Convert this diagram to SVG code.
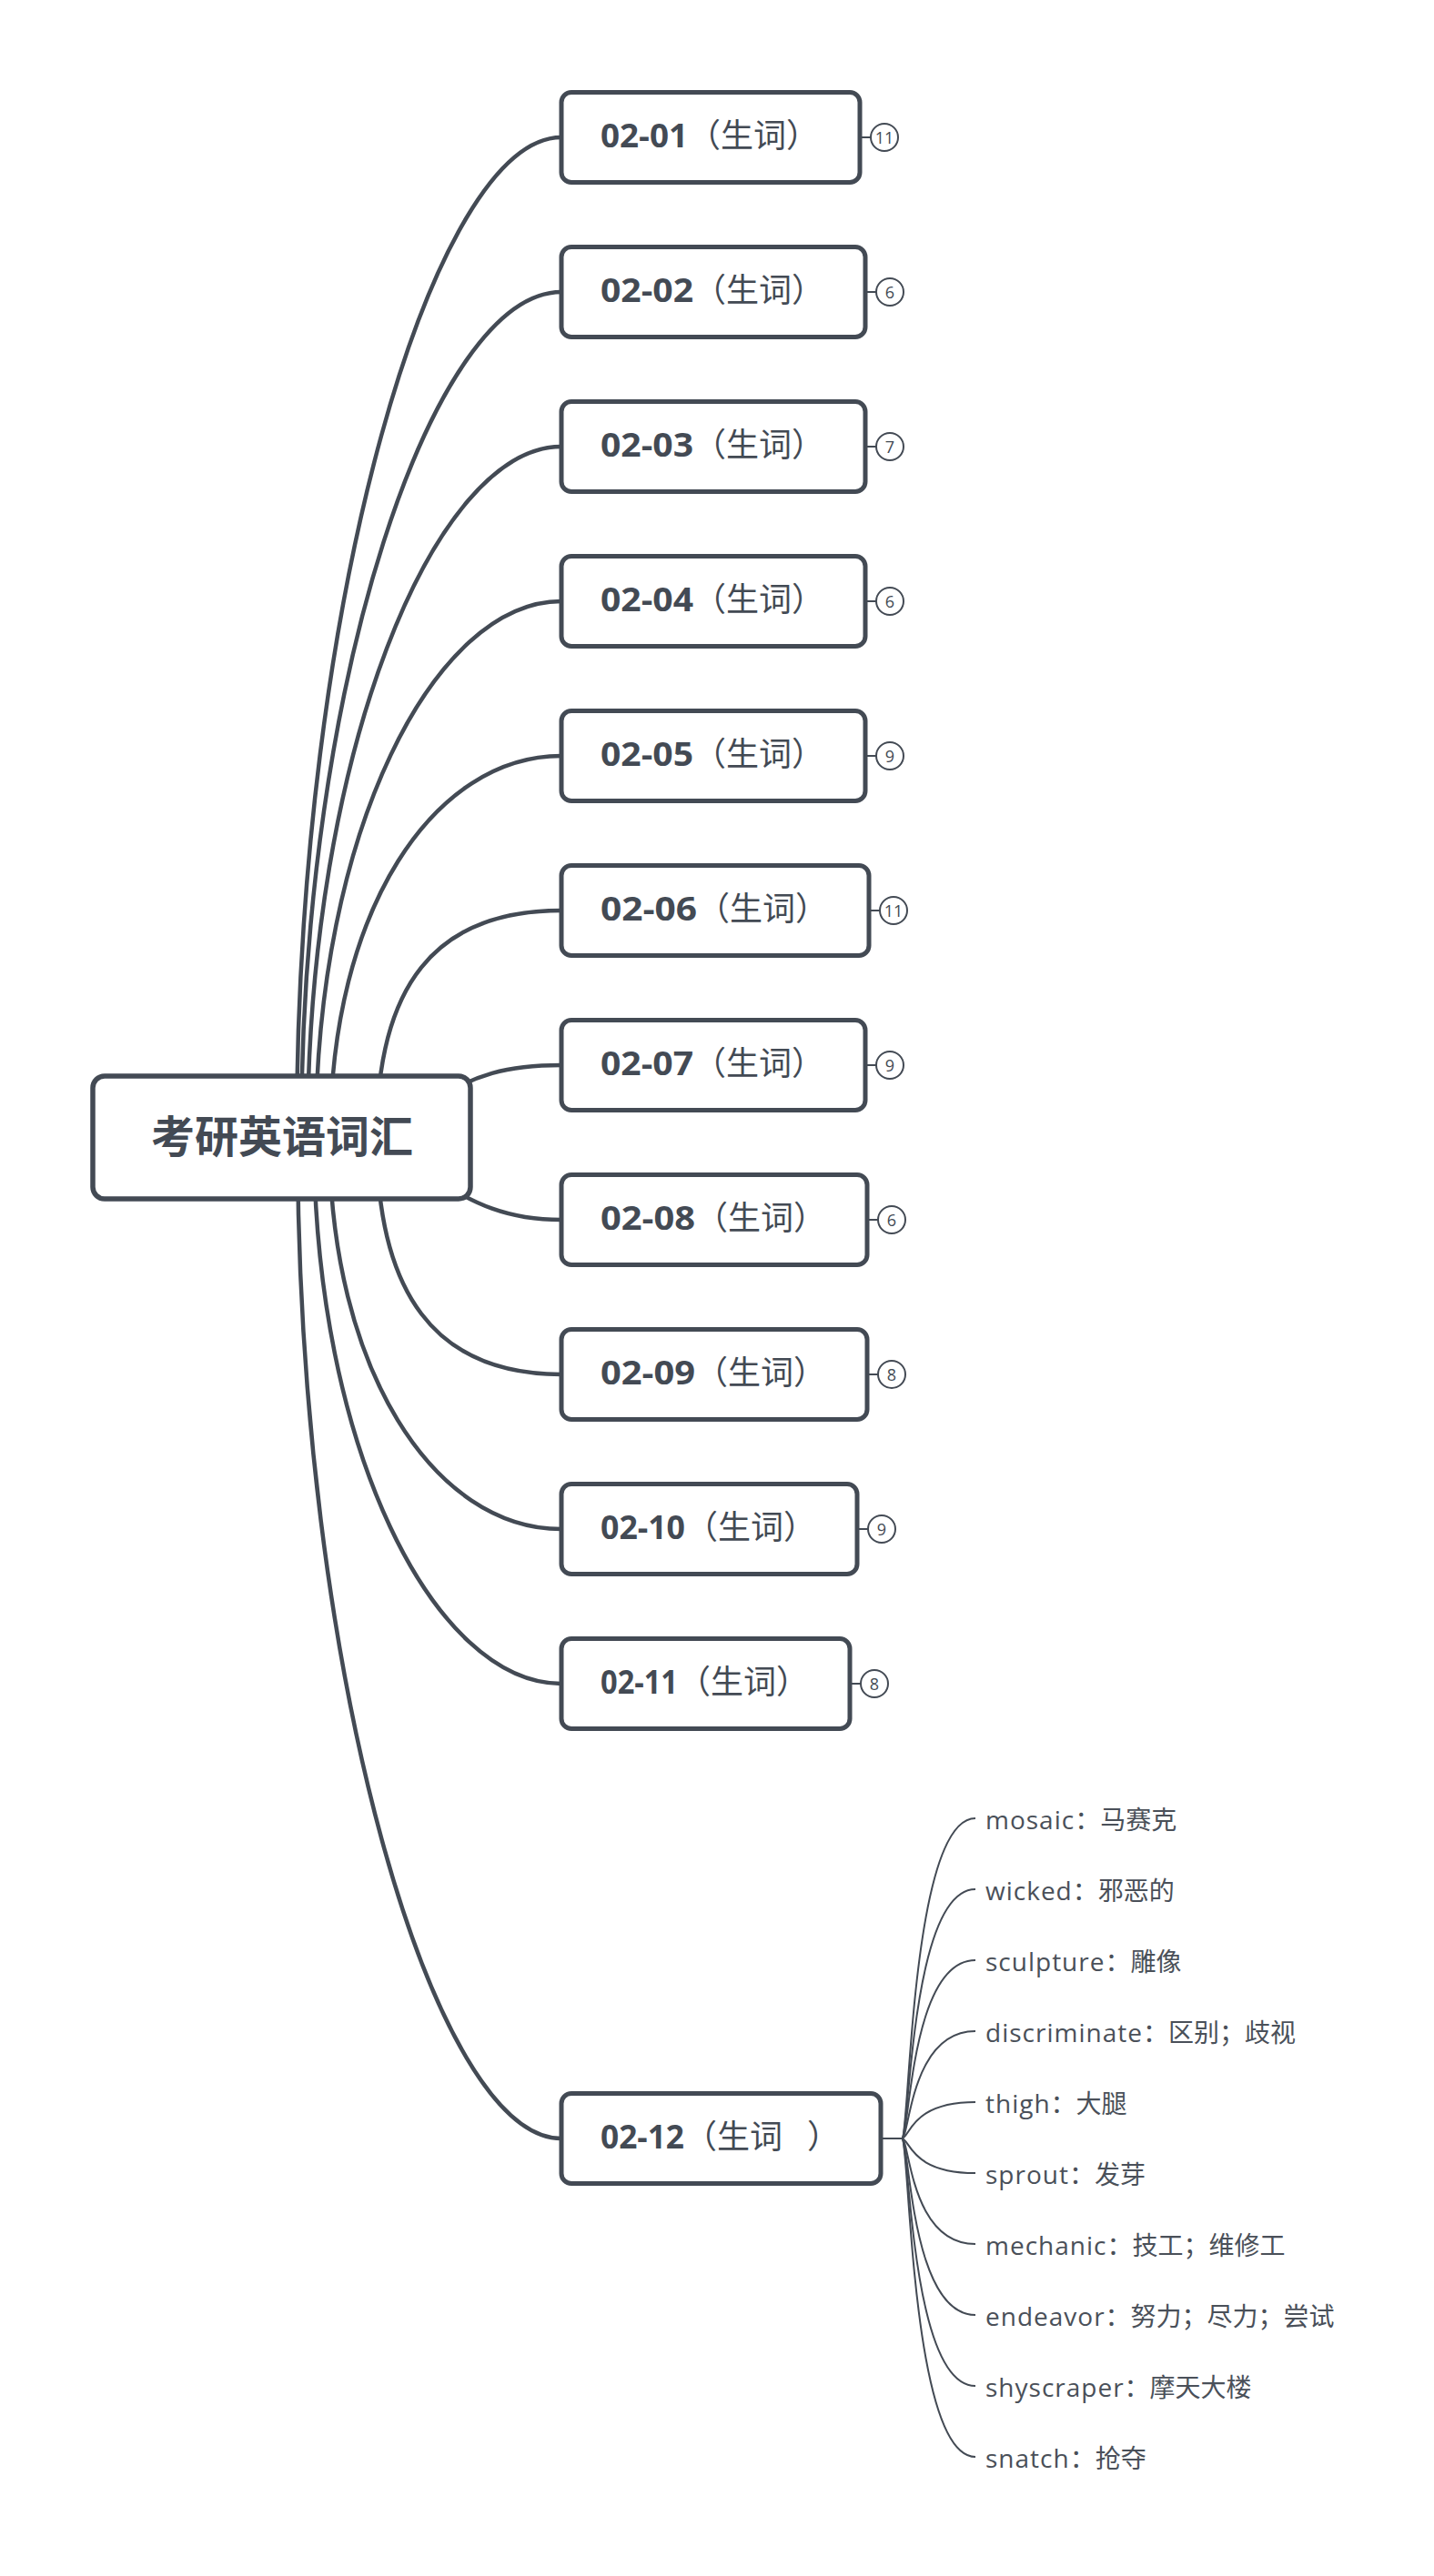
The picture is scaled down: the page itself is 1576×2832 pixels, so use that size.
<svg xmlns="http://www.w3.org/2000/svg" width="1576" height="2832" viewBox="0 0 1576 2832">
<style>
.branch{fill:none;stroke:#434a54;stroke-width:4.5;stroke-linecap:round}
.leafline{fill:none;stroke:#434a54;stroke-width:2}
.box{fill:#fff;stroke:#434a54;stroke-width:5}
.root{fill:#fff;stroke:#434a54;stroke-width:5.5}
.title{font-family:"Noto Sans CJK SC",sans-serif;font-weight:700;font-size:48px;fill:#434a54;text-anchor:middle}
.lbl{font-family:"Open Sans","Noto Sans CJK SC",sans-serif;font-size:36px;fill:#434a54}
.num{font-weight:700}
.cjk{font-family:"Noto Sans CJK SC",sans-serif;font-weight:400}
.badge circle{fill:#fff;stroke:#434a54;stroke-width:2}
.badge line{stroke:#434a54;stroke-width:2}
.badge text{font-family:"Open Sans",sans-serif;font-size:18px;fill:#434a54;text-anchor:middle}
.leaf{font-family:"Open Sans","Noto Sans CJK SC",sans-serif;font-size:28px;fill:#4a5059}
.en{letter-spacing:1px}
</style>
<rect width="1576" height="2832" fill="#fff"/>

<!-- connectors -->
<g id="connectors">
  <path class="branch" d="M326,1250 C326,660 477,151 617,151"/>
  <path class="branch" d="M331,1250 C331,745 477,321 617,321"/>
  <path class="branch" d="M338,1250 C338,830 477,491 617,491"/>
  <path class="branch" d="M347,1250 C347,915 477,661 617,661"/>
  <path class="branch" d="M363,1250 C363,1000 477,831 617,831"/>
  <path class="branch" d="M414,1250 C414,1085 477,1001 617,1001"/>
  <path class="branch" d="M470,1215 C520,1180 560,1171 617,1171"/>
  <path class="branch" d="M470,1290 C520,1325 560,1341 617,1341"/>
  <path class="branch" d="M414,1250 C414,1420 477,1511 617,1511"/>
  <path class="branch" d="M362,1250 C362,1505 477,1681 617,1681"/>
  <path class="branch" d="M345,1250 C345,1590 477,1851 617,1851"/>
  <path class="branch" d="M327,1250 C327,1841 477,2351 617,2351"/>
  <!-- 02-12 fan -->
  <path class="leafline" d="M968,2351 H991"/>
  <path class="leafline" d="M991,2351 C1000,2351 1000,1999 1072,1999"/>
  <path class="leafline" d="M991,2351 C1000,2351 1000,2077 1072,2077"/>
  <path class="leafline" d="M991,2351 C1000,2351 1000,2155 1072,2155"/>
  <path class="leafline" d="M991,2351 C1000,2351 1000,2233 1072,2233"/>
  <path class="leafline" d="M991,2351 C1000,2351 1000,2311 1072,2311"/>
  <path class="leafline" d="M991,2351 C1000,2351 1000,2389 1072,2389"/>
  <path class="leafline" d="M991,2351 C1000,2351 1000,2467 1072,2467"/>
  <path class="leafline" d="M991,2351 C1000,2351 1000,2545 1072,2545"/>
  <path class="leafline" d="M991,2351 C1000,2351 1000,2623 1072,2623"/>
  <path class="leafline" d="M991,2351 C1000,2351 1000,2701 1072,2701"/>
</g>

<!-- central topic -->
<g id="root">
  <rect class="root" x="102" y="1183" width="415" height="135" rx="13"/>
  <text class="title" x="310" y="1267">考研英语词汇</text>
</g>

<!-- main topics -->
<g id="n0201">
  <rect class="box" x="617" y="101.5" width="328" height="99" rx="11"/>
  <text class="lbl" x="660" y="162"><tspan class="num" textLength="96" lengthAdjust="spacingAndGlyphs">02-01</tspan><tspan class="cjk" x="756">（生词）</tspan></text>
  <g class="badge"><line x1="947" y1="151" x2="957" y2="151"/><circle cx="972" cy="151" r="15"/><text x="972" y="157.5">11</text></g>
</g>
<g id="n0202">
  <rect class="box" x="617" y="271.5" width="334" height="99" rx="11"/>
  <text class="lbl" x="660" y="332"><tspan class="num" textLength="102" lengthAdjust="spacingAndGlyphs">02-02</tspan><tspan class="cjk" x="762">（生词）</tspan></text>
  <g class="badge"><line x1="953" y1="321" x2="963" y2="321"/><circle cx="978" cy="321" r="15"/><text x="978" y="327.5">6</text></g>
</g>
<g id="n0203">
  <rect class="box" x="617" y="441.5" width="334" height="99" rx="11"/>
  <text class="lbl" x="660" y="502"><tspan class="num" textLength="102" lengthAdjust="spacingAndGlyphs">02-03</tspan><tspan class="cjk" x="762">（生词）</tspan></text>
  <g class="badge"><line x1="953" y1="491" x2="963" y2="491"/><circle cx="978" cy="491" r="15"/><text x="978" y="497.5">7</text></g>
</g>
<g id="n0204">
  <rect class="box" x="617" y="611.5" width="334" height="99" rx="11"/>
  <text class="lbl" x="660" y="672"><tspan class="num" textLength="102" lengthAdjust="spacingAndGlyphs">02-04</tspan><tspan class="cjk" x="762">（生词）</tspan></text>
  <g class="badge"><line x1="953" y1="661" x2="963" y2="661"/><circle cx="978" cy="661" r="15"/><text x="978" y="667.5">6</text></g>
</g>
<g id="n0205">
  <rect class="box" x="617" y="781.5" width="334" height="99" rx="11"/>
  <text class="lbl" x="660" y="842"><tspan class="num" textLength="102" lengthAdjust="spacingAndGlyphs">02-05</tspan><tspan class="cjk" x="762">（生词）</tspan></text>
  <g class="badge"><line x1="953" y1="831" x2="963" y2="831"/><circle cx="978" cy="831" r="15"/><text x="978" y="837.5">9</text></g>
</g>
<g id="n0206">
  <rect class="box" x="617" y="951.5" width="338" height="99" rx="11"/>
  <text class="lbl" x="660" y="1012"><tspan class="num" textLength="106" lengthAdjust="spacingAndGlyphs">02-06</tspan><tspan class="cjk" x="766">（生词）</tspan></text>
  <g class="badge"><line x1="957" y1="1001" x2="967" y2="1001"/><circle cx="982" cy="1001" r="15"/><text x="982" y="1007.5">11</text></g>
</g>
<g id="n0207">
  <rect class="box" x="617" y="1121.5" width="334" height="99" rx="11"/>
  <text class="lbl" x="660" y="1182"><tspan class="num" textLength="102" lengthAdjust="spacingAndGlyphs">02-07</tspan><tspan class="cjk" x="762">（生词）</tspan></text>
  <g class="badge"><line x1="953" y1="1171" x2="963" y2="1171"/><circle cx="978" cy="1171" r="15"/><text x="978" y="1177.5">9</text></g>
</g>
<g id="n0208">
  <rect class="box" x="617" y="1291.5" width="336" height="99" rx="11"/>
  <text class="lbl" x="660" y="1352"><tspan class="num" textLength="104" lengthAdjust="spacingAndGlyphs">02-08</tspan><tspan class="cjk" x="764">（生词）</tspan></text>
  <g class="badge"><line x1="955" y1="1341" x2="965" y2="1341"/><circle cx="980" cy="1341" r="15"/><text x="980" y="1347.5">6</text></g>
</g>
<g id="n0209">
  <rect class="box" x="617" y="1461.5" width="336" height="99" rx="11"/>
  <text class="lbl" x="660" y="1522"><tspan class="num" textLength="104" lengthAdjust="spacingAndGlyphs">02-09</tspan><tspan class="cjk" x="764">（生词）</tspan></text>
  <g class="badge"><line x1="955" y1="1511" x2="965" y2="1511"/><circle cx="980" cy="1511" r="15"/><text x="980" y="1517.5">8</text></g>
</g>
<g id="n0210">
  <rect class="box" x="617" y="1631.5" width="325" height="99" rx="11"/>
  <text class="lbl" x="660" y="1692"><tspan class="num" textLength="93" lengthAdjust="spacingAndGlyphs">02-10</tspan><tspan class="cjk" x="753">（生词）</tspan></text>
  <g class="badge"><line x1="944" y1="1681" x2="954" y2="1681"/><circle cx="969" cy="1681" r="15"/><text x="969" y="1687.5">9</text></g>
</g>
<g id="n0211">
  <rect class="box" x="617" y="1801.5" width="317" height="99" rx="11"/>
  <text class="lbl" x="660" y="1862"><tspan class="num" textLength="85" lengthAdjust="spacingAndGlyphs">02-11</tspan><tspan class="cjk" x="745">（生词）</tspan></text>
  <g class="badge"><line x1="936" y1="1851" x2="946" y2="1851"/><circle cx="961" cy="1851" r="15"/><text x="961" y="1857.5">8</text></g>
</g>
<g id="n0212">
  <rect class="box" x="617" y="2301.5" width="351" height="99" rx="11"/>
  <text class="lbl" x="660" y="2362" xml:space="preserve"><tspan class="num" textLength="92" lengthAdjust="spacingAndGlyphs">02-12</tspan><tspan class="cjk" x="752">（生词 </tspan><tspan class="cjk" x="887">）</tspan></text>
</g>

<!-- subtopics of 02-12 -->
<g id="w-mosaic"><text class="leaf" x="1083" y="2011"><tspan class="en">mosaic</tspan>：马赛克</text></g>
<g id="w-wicked"><text class="leaf" x="1083" y="2089"><tspan class="en">wicked</tspan>：邪恶的</text></g>
<g id="w-sculpture"><text class="leaf" x="1083" y="2167"><tspan class="en">sculpture</tspan>：雕像</text></g>
<g id="w-discriminate"><text class="leaf" x="1083" y="2245"><tspan class="en">discriminate</tspan>：区别；歧视</text></g>
<g id="w-thigh"><text class="leaf" x="1083" y="2323"><tspan class="en">thigh</tspan>：大腿</text></g>
<g id="w-sprout"><text class="leaf" x="1083" y="2401"><tspan class="en">sprout</tspan>：发芽</text></g>
<g id="w-mechanic"><text class="leaf" x="1083" y="2479"><tspan class="en">mechanic</tspan>：技工；维修工</text></g>
<g id="w-endeavor"><text class="leaf" x="1083" y="2557"><tspan class="en">endeavor</tspan>：努力；尽力；尝试</text></g>
<g id="w-shyscraper"><text class="leaf" x="1083" y="2635"><tspan class="en">shyscraper</tspan>：摩天大楼</text></g>
<g id="w-snatch"><text class="leaf" x="1083" y="2713"><tspan class="en">snatch</tspan>：抢夺</text></g>
</svg>
